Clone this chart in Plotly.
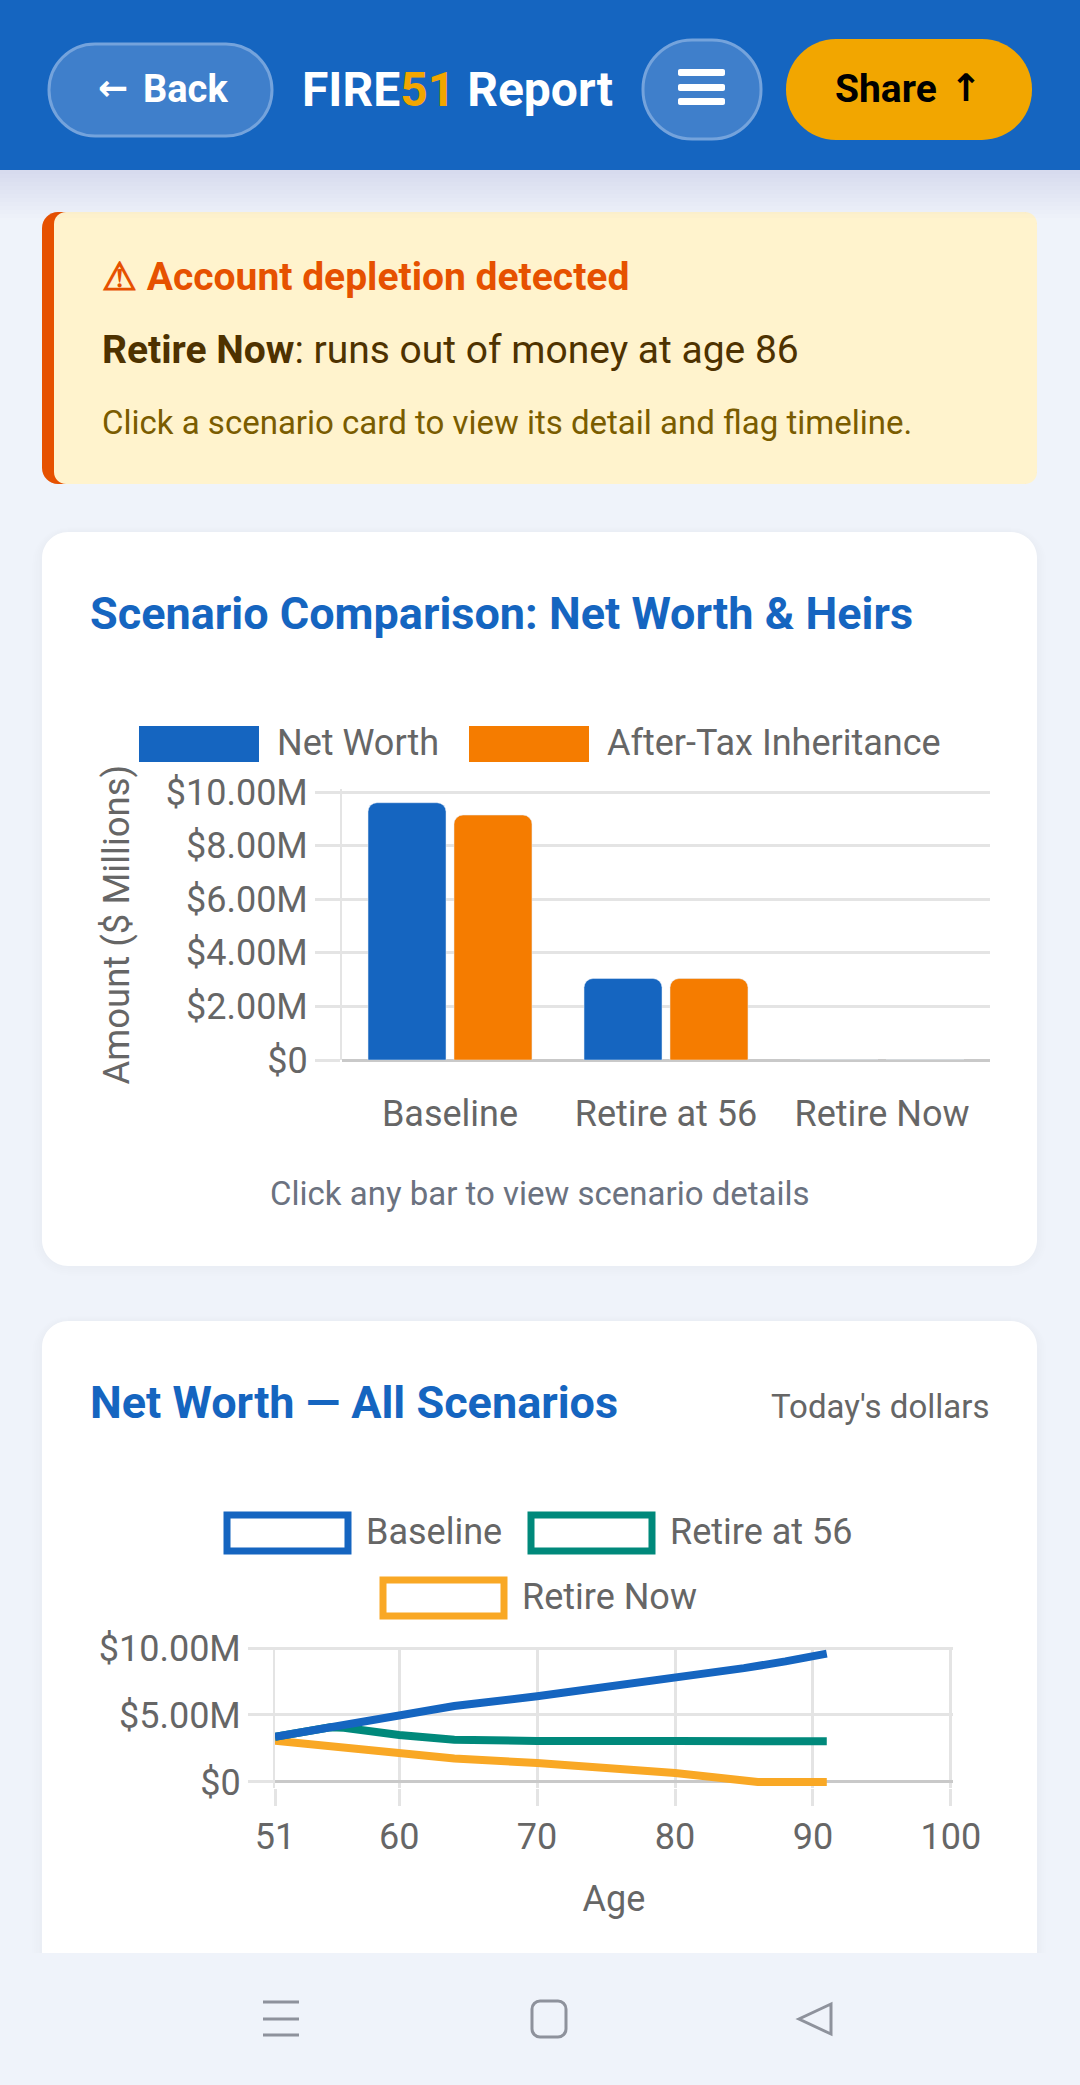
import plotly.graph_objects as go

W = 1080
H = 2085

scenarios = ['Baseline', 'Retire at 56', 'Retire Now']
net_worth = [9.6, 3.04, 0]
inheritance = [9.14, 3.04, 0]
bar_tickvals = [0, 2, 4, 6, 8, 10]
bar_ticktext = ['$0', '$2.00M', '$4.00M', '$6.00M', '$8.00M', '$10.00M']

baseline_ages = [51, 55, 60, 64, 70, 75, 80, 85, 88, 91]
baseline_values = [3.37, 4.08, 4.83, 5.67, 6.4, 7.05, 7.7, 8.5, 9.0, 9.58]
retire56_ages = [51, 55, 56, 60, 64, 66, 70, 80, 91]
retire56_values = [3.37, 4.08, 4.05, 3.5, 3.15, 3.07, 3.06, 3.05, 3.04]
retirenow_ages = [51, 55, 60, 64, 70, 75, 80, 86, 91]
retirenow_values = [3.07, 2.65, 2.15, 1.76, 1.41, 1.1, 0.67, 0, 0]
line_xticks = [51, 60, 70, 80, 90, 100]
line_yticks = [0, 5, 10]
line_yticktext = ['$0', '$5.00M', '$10.00M']

BLUE = '#1565C0'
ORANGE = '#F57C00'
TEAL = '#00897B'
AMBER = '#F9A825'
GOLD = '#F2A600'
GRID = '#E4E4E4'
ZERO = '#C9C9C9'
TEXT = '#666666'
FONT = 'Roboto'

shapes = []
notes = []


def fx(x):
    return x / W


def fy(y):
    return 1 - y / H


def rrect_path(x0, y0, x1, y1, r):
    # rounded box, pixel corners turned into paper fractions
    p = lambda x, y: f'{fx(x):.5f},{fy(y):.5f}'
    k = r * 0.45
    return (f'M{p(x0 + r, y0)} L{p(x1 - r, y0)} C{p(x1 - k, y0)} {p(x1, y0 + k)} {p(x1, y0 + r)} '
            f'L{p(x1, y1 - r)} C{p(x1, y1 - k)} {p(x1 - k, y1)} {p(x1 - r, y1)} '
            f'L{p(x0 + r, y1)} C{p(x0 + k, y1)} {p(x0, y1 - k)} {p(x0, y1 - r)} '
            f'L{p(x0, y0 + r)} C{p(x0, y0 + k)} {p(x0 + k, y0)} {p(x0 + r, y0)} Z')


def box(x0, y0, x1, y1, fill, r=0, line=None, lw=0):
    shapes.append(dict(type='path', xref='paper', yref='paper', layer='below',
                       path=rrect_path(x0, y0, x1, y1, r), fillcolor=fill,
                       line=dict(color=line or 'rgba(0,0,0,0)', width=lw)))


def poly(points, color, lw, close=False):
    path = 'M' + ' L'.join(f'{fx(x):.5f},{fy(y):.5f}' for x, y in points)
    shapes.append(dict(type='path', xref='paper', yref='paper', layer='below',
                       path=path + (' Z' if close else ''),
                       line=dict(color=color, width=lw)))


def label(x, y, text, size, color=TEXT, anchor='left', family=FONT):
    notes.append(dict(x=fx(x), y=fy(y), xref='paper', yref='paper', text=text,
                      showarrow=False, xanchor=anchor, yanchor='middle', borderpad=0,
                      font=dict(family=family, size=size, color=color)))


# cards
for i in range(10, 0, -2):
    box(42 - i, 532 - i // 2, 1037 + i, 1266 + i, 'rgba(30,60,120,0.004)', 26 + i)
    box(42 - i, 1321 - i // 2, 1037 + i, 2000, 'rgba(30,60,120,0.004)', 26 + i)
box(42, 532, 1037, 1266, 'white', 26)
box(42, 1321, 1037, 2000, 'white', 26)

# alert
box(42, 212, 1037, 484, '#E65100', 16)
box(54, 212, 1037, 484, '#FFF3CD', 12)

# header
for i in range(1, 13):
    box(0, 170, W, 170 + i * 4, 'rgba(20,40,90,0.008)')
box(0, 0, W, 170, BLUE)
box(49, 44, 272, 136, '#3F7FCB', 46, '#74A3DC', 3)
box(643, 40, 761, 139, '#3F7FCB', 49, '#74A3DC', 3)
box(786, 39, 1032, 140, GOLD, 50)
for y in [69, 84, 98]:
    box(678, y, 725, y + 7, 'white', 2)

# bottom nav
box(0, 1953, W, H, '#EFF3FA')
for y in [2002, 2019, 2035]:
    poly([(263, y), (299, y)], '#8E929C', 3)
box(532, 2001, 566, 2037, 'rgba(0,0,0,0)', 8, '#8E929C', 3)
poly([(831, 2004), (831, 2034), (799, 2019)], '#8E929C', 3, close=True)

label(113, 88, '<b>←</b>', 36, 'white', anchor='center', family='DejaVu Sans')
label(142, 89, '<b>Back</b>', 38, 'white')
label(301, 89, f"<b>FIRE<span style='color:{GOLD}'>51</span> Report</b>", 48, 'white')
label(834, 89, '<b>Share</b>', 39, 'black')
label(966, 88, '<b>↑</b>', 38, 'black', anchor='center', family='DejaVu Sans')
label(101, 277, '<b>⚠ Account depletion detected</b>', 39, '#E65100')
label(101, 350, '<b>Retire Now</b>: runs out of money at age 86', 39, '#4E3200')
label(101, 423, 'Click a scenario card to view its detail and flag timeline.', 33, '#7A5C00')

label(89, 613, '<b>Scenario Comparison: Net Worth &amp; Heirs</b>', 45, BLUE)
label(540, 1193, 'Click any bar to view scenario details', 33, '#6B7280', anchor='center')
label(89, 1402, '<b>Net Worth — All Scenarios</b>', 45, BLUE)
label(990, 1406, "Today's dollars", 33, '#666666', anchor='right')

# chart legends
box(139, 726, 259, 762, BLUE)
label(276, 743, 'Net Worth', 36)
box(469, 726, 589, 762, ORANGE)
label(606, 743, 'After-Tax Inheritance', 36)

box(227, 1515, 348, 1551, 'white', 0, BLUE, 7)
label(365, 1532, scenarios[0], 36)
box(531, 1515, 652, 1551, 'white', 0, TEAL, 7)
label(669, 1532, scenarios[1], 36)
box(383, 1580, 504, 1616, 'white', 0, AMBER, 7)
label(521, 1597, scenarios[2], 36)

fig = go.Figure()
fig.add_trace(go.Bar(x=scenarios, y=net_worth, name='Net Worth', marker=dict(color=BLUE, cornerradius=9)))
fig.add_trace(go.Bar(x=scenarios, y=inheritance, name='After-Tax Inheritance', marker=dict(color=ORANGE, cornerradius=9)))
# first series last so the Baseline line stays on top
fig.add_trace(go.Scatter(x=retirenow_ages, y=retirenow_values, name='Retire Now', mode='lines', xaxis='x2', yaxis='y2',
                         line=dict(color=AMBER, width=8), cliponaxis=False))
fig.add_trace(go.Scatter(x=retire56_ages, y=retire56_values, name='Retire at 56', mode='lines', xaxis='x2', yaxis='y2',
                         line=dict(color=TEAL, width=8), cliponaxis=False))
fig.add_trace(go.Scatter(x=baseline_ages, y=baseline_values, name='Baseline', mode='lines', xaxis='x2', yaxis='y2',
                         line=dict(color=BLUE, width=8), cliponaxis=False))

tick_font = dict(family=FONT, size=36, color=TEXT)

# ranges run a hair past the last tick, plotly drops a gridline sitting on the plot edge
# the line chart also starts a little under zero so the flat Retire Now end keeps its full width
fig.update_layout(
    width=W, height=H, autosize=False,
    margin=dict(l=0, r=0, t=0, b=0, pad=0),
    paper_bgcolor='#EFF3FA', plot_bgcolor='rgba(0,0,0,0)',
    showlegend=False, barmode='group', bargap=0.204, bargroupgap=0.093,
    shapes=shapes, annotations=notes,
    xaxis=dict(domain=[fx(342), fx(990)], anchor='y', tickfont=tick_font, showgrid=False, zeroline=False, automargin=False,
               ticks='outside', ticklen=22, tickcolor='rgba(0,0,0,0)', showline=False),
    yaxis=dict(domain=[fy(1060), fy(1060 - 268 * 1.01)], anchor='x', range=[0, 10.1], tickmode='array', automargin=False,
               tickvals=bar_tickvals, ticktext=bar_ticktext, tickfont=tick_font,
               gridcolor=GRID, gridwidth=2.5, ticks='outside', ticklen=25, tickwidth=2.5, tickcolor=GRID,
               showline=True, linecolor=GRID, linewidth=2,
               zeroline=True, zerolinecolor=ZERO, zerolinewidth=3,
               title=dict(text='Amount ($ Millions)', font=dict(family=FONT, size=36.5, color=TEXT), standoff=25)),
    xaxis2=dict(domain=[fx(275), fx(953)], anchor='y2', range=[51, 100.15], tickmode='array', automargin=False,
                tickvals=line_xticks, tickfont=tick_font, gridcolor=GRID, gridwidth=2.5, layer='below traces',
                ticks='outside', ticklen=17, tickwidth=2.5, tickcolor=GRID, zeroline=False,
                title=dict(text='Age', font=tick_font, standoff=28)),
    yaxis2=dict(domain=[fy(1788), fy(1782 - 134 * 1.01)], anchor='x2', range=[-0.45, 10.1], tickmode='array', automargin=False,
                tickvals=line_yticks, ticktext=line_yticktext, tickfont=tick_font, layer='below traces',
                gridcolor=GRID, gridwidth=2.5, ticks='outside', ticklen=25, tickwidth=2.5, tickcolor=GRID,
                showline=True, linecolor=GRID, linewidth=2,
                zeroline=True, zerolinecolor=ZERO, zerolinewidth=3),
)

fig.write_html('out.html', config=dict(displayModeBar=False), post_script="document.body.style.margin='0';")
